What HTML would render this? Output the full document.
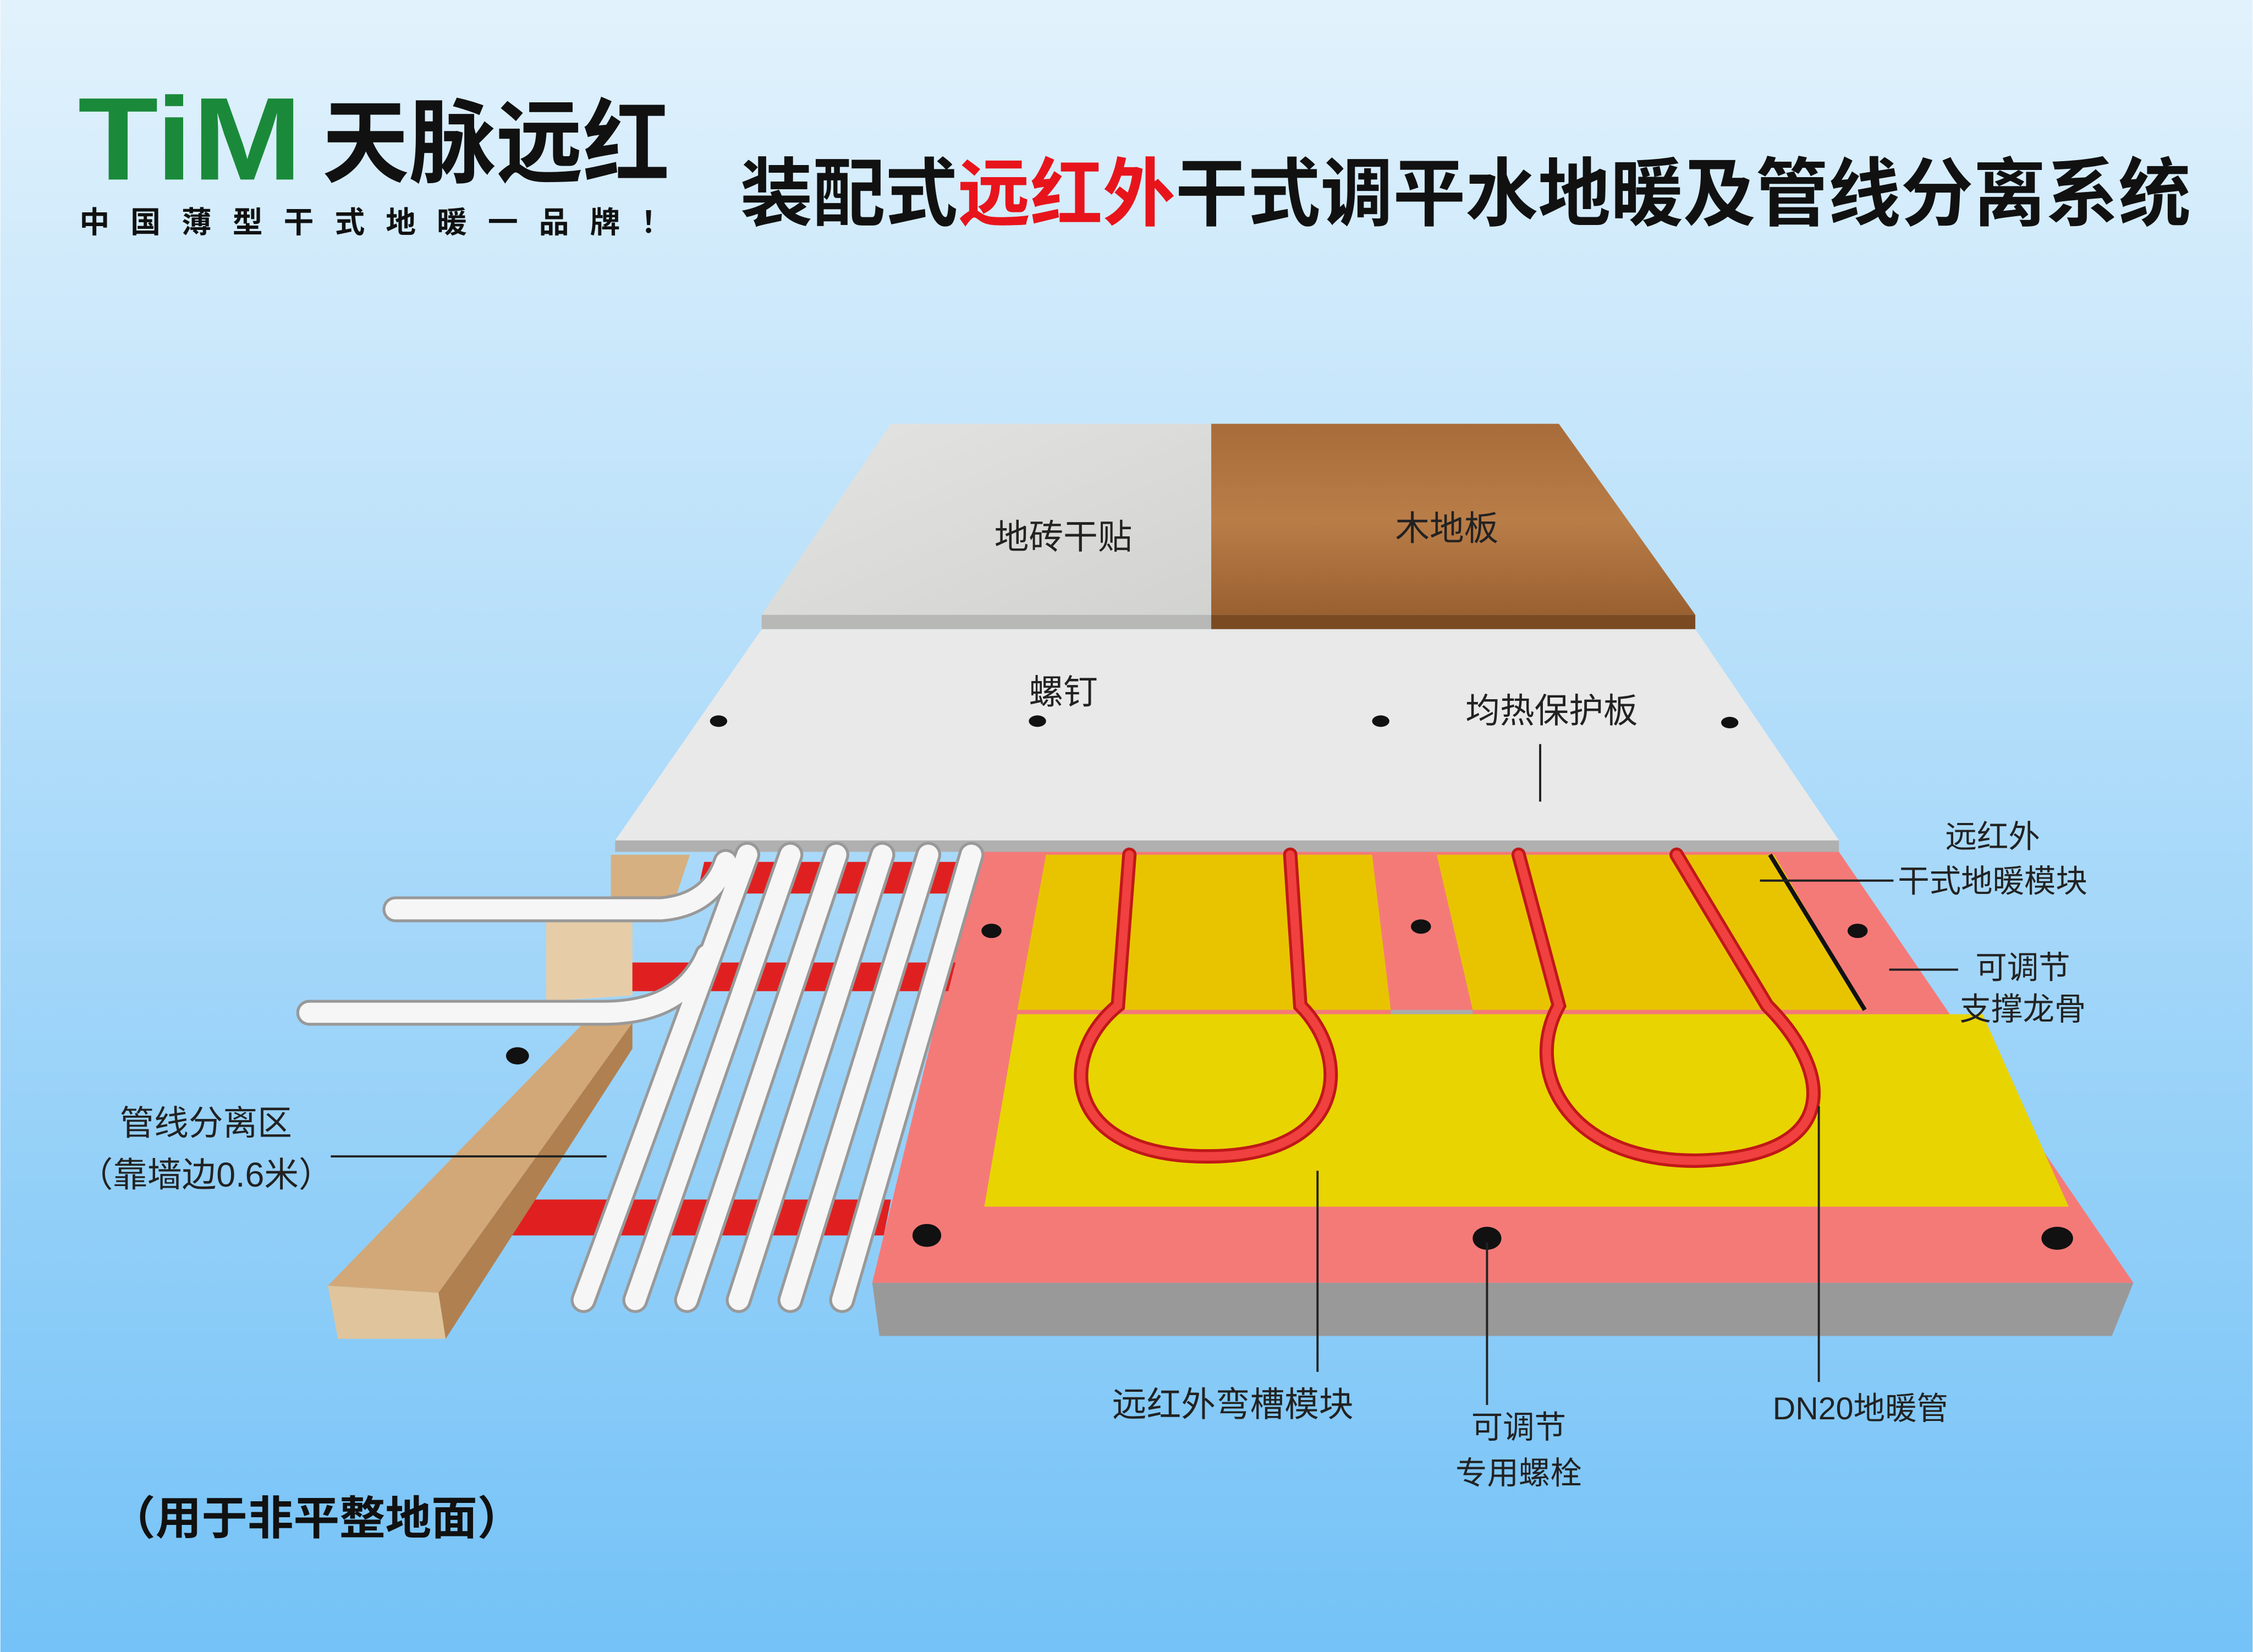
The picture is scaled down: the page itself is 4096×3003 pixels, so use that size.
<!DOCTYPE html>
<html><head><meta charset="utf-8"><style>
html,body{margin:0;padding:0;width:4096px;height:3003px;overflow:hidden}
svg{display:block}
text{font-family:"Liberation Sans","Noto Sans CJK SC",sans-serif}
</style></head><body>
<svg width="4096" height="3003" viewBox="0 0 1568 1150" xmlns="http://www.w3.org/2000/svg">
<defs>
<linearGradient id="bg" x1="0" y1="0" x2="0" y2="1"><stop offset="0" stop-color="#e2f2fc"/><stop offset="1" stop-color="#74c2f7"/></linearGradient>
<linearGradient id="wood" x1="0" y1="0" x2="0" y2="1"><stop offset="0" stop-color="#a86c3a"/><stop offset="0.5" stop-color="#b97d48"/><stop offset="1" stop-color="#9a6030"/></linearGradient>
<linearGradient id="marble" x1="0" y1="0" x2="1" y2="1"><stop offset="0" stop-color="#e4e4e2"/><stop offset="1" stop-color="#d2d3d0"/></linearGradient>
</defs>
<rect width="1568" height="1150" fill="url(#bg)"/>
<!-- logo -->
<text x="54" y="125" font-size="82" font-weight="bold" fill="#1a8a3a" textLength="156" lengthAdjust="spacingAndGlyphs">TiM</text>
<text x="224" y="122" font-size="64" font-weight="bold" fill="#111" textLength="242" lengthAdjust="spacingAndGlyphs">天脉远红</text>
<text x="55" y="162" font-size="21" font-weight="bold" fill="#111" textLength="412">中国薄型干式地暖一品牌！</text>
<!-- title -->
<text x="515" y="153" font-size="52" font-weight="bold" fill="#111" textLength="1010" lengthAdjust="spacingAndGlyphs">装配式<tspan fill="#e8141c">远红外</tspan>干式调平水地暖及管线分离系统</text>

<!-- top tiles -->
<polygon points="530,428 843,428 843,438 530,438" fill="#b8b8b6"/>
<polygon points="620,295 843,295 843,428 530,428" fill="url(#marble)"/>
<polygon points="843,428 1180,428 1180,438 843,438" fill="#7a4a22"/>
<polygon points="843,295 1085,295 1180,428 843,428" fill="url(#wood)"/>
<text x="740" y="382" font-size="24" text-anchor="middle" fill="#222">地砖干贴</text>
<text x="1007" y="376" font-size="24" text-anchor="middle" fill="#222">木地板</text>

<!-- protection board -->
<polygon points="428,585 1280,585 1280,593 428,593" fill="#b0b0b0"/>
<polygon points="530,438 1180,438 1280,585 428,585" fill="#e9e9e9"/>
<g fill="#111"><ellipse cx="500" cy="502" rx="6" ry="4"/><ellipse cx="722" cy="502" rx="6" ry="4"/><ellipse cx="961" cy="502" rx="6" ry="4"/><ellipse cx="1204" cy="503" rx="6" ry="4"/></g>
<text x="740" y="490" font-size="24" text-anchor="middle" fill="#222">螺钉</text>
<text x="1080" y="503" font-size="24" text-anchor="middle" fill="#222">均热保护板</text>
<line x1="1072" y1="518" x2="1072" y2="558" stroke="#222" stroke-width="1.5"/>

<!-- module -->
<polygon points="607,893 1485,893 1470,930 612,930" fill="#999"/>
<polygon points="680,593 1280,593 1485,893 607,893" fill="#f47a78"/>
<polygon points="728,595 955,595 968,703 708,703" fill="#e8c400"/>
<polygon points="1000,595 1235,595 1298,703 1025,703" fill="#e8c400"/>
<polygon points="968,703 1025,703 1025,708 968,708" fill="#aaa"/>
<line x1="1232" y1="595" x2="1298" y2="703" stroke="#111" stroke-width="3"/>
<polygon points="708,706 1380,706 1440,840 685,840" fill="#e8d400"/>
<g fill="none" stroke-linecap="round">
<path d="M786,595 L778,700 C735,735 740,805 840,805 C940,805 940,735 905,700 L898,595" stroke="#c01818" stroke-width="10"/>
<path d="M786,595 L778,700 C735,735 740,805 840,805 C940,805 940,735 905,700 L898,595" stroke="#f04040" stroke-width="6"/>
<path d="M1057,595 L1085,700 C1060,745 1090,808 1180,808 C1285,806 1275,745 1230,700 L1167,595" stroke="#c01818" stroke-width="10"/>
<path d="M1057,595 L1085,700 C1060,745 1090,808 1180,808 C1285,806 1275,745 1230,700 L1167,595" stroke="#f04040" stroke-width="6"/>
</g>
<g fill="#111"><ellipse cx="690" cy="648" rx="7" ry="5"/><ellipse cx="989" cy="645" rx="7" ry="5"/><ellipse cx="1293" cy="648" rx="7" ry="5"/><ellipse cx="645" cy="860" rx="10" ry="8"/><ellipse cx="1035" cy="862" rx="10" ry="8"/><ellipse cx="1432" cy="862" rx="11" ry="8"/></g>

<!-- red clips -->
<g fill="#e02020">
<polygon points="490,600 680,600 676,622 485,622"/>
<polygon points="440,670 665,670 660,690 436,690"/>
<polygon points="350,835 620,835 615,860 350,860"/>
</g>
<!-- wood beam -->
<polygon points="228,895 410,708 440,712 305,900" fill="#d2a878"/>
<polygon points="228,895 305,900 310,932 235,932" fill="#e0c49c"/>
<polygon points="305,900 440,712 440,730 310,932" fill="#b08050"/>
<polygon points="425,595 480,595 470,625 425,625" fill="#d6b080"/>
<polygon points="380,640 440,632 440,693 380,697" fill="#e6cda8"/>
<ellipse cx="360" cy="735" rx="8" ry="6" fill="#111"/>
<!-- white pipes -->
<g fill="none" stroke-linecap="round">
<g stroke="#999" stroke-width="18">
<path d="M406,905 L520,595"/><path d="M442,905 L550,595"/><path d="M478,905 L582,595"/><path d="M514,905 L614,595"/><path d="M550,905 L646,595"/><path d="M586,905 L676,595"/>
<path d="M275,633 L460,633 Q495,630 505,600"/><path d="M215,705 L420,705 Q475,705 492,665"/>
</g>
<g stroke="#f6f6f6" stroke-width="14">
<path d="M406,905 L520,595"/><path d="M442,905 L550,595"/><path d="M478,905 L582,595"/><path d="M514,905 L614,595"/><path d="M550,905 L646,595"/><path d="M586,905 L676,595"/>
<path d="M275,633 L460,633 Q495,630 505,600"/><path d="M215,705 L420,705 Q475,705 492,665"/>
</g>
</g>

<!-- labels -->
<g font-size="22" fill="#222" text-anchor="middle">
<text x="1387" y="590">远红外</text>
<text x="1387" y="621">干式地暖模块</text>
<text x="1408" y="681">可调节</text>
<text x="1408" y="710">支撑龙骨</text>
<text x="143" y="790" font-size="24">管线分离区</text>
<text x="143" y="826" font-size="24">（靠墙边0.6米）</text>
<text x="858" y="986" font-size="24">远红外弯槽模块</text>
<text x="1057" y="1001">可调节</text>
<text x="1057" y="1033">专用螺栓</text>
<text x="1295" y="988">DN20地暖管</text>
</g>
<g stroke="#222" stroke-width="1.5">
<line x1="1225" y1="613" x2="1318" y2="613"/>
<line x1="1315" y1="675" x2="1363" y2="675"/>
<line x1="230" y1="805" x2="422" y2="805"/>
<line x1="917" y1="815" x2="917" y2="955"/>
<line x1="1035" y1="865" x2="1035" y2="978"/>
<line x1="1266" y1="770" x2="1266" y2="962"/>
</g>
<text x="220" y="1068" font-size="32" font-weight="bold" fill="#111" text-anchor="middle">（用于非平整地面）</text>
</svg>
</body></html>
